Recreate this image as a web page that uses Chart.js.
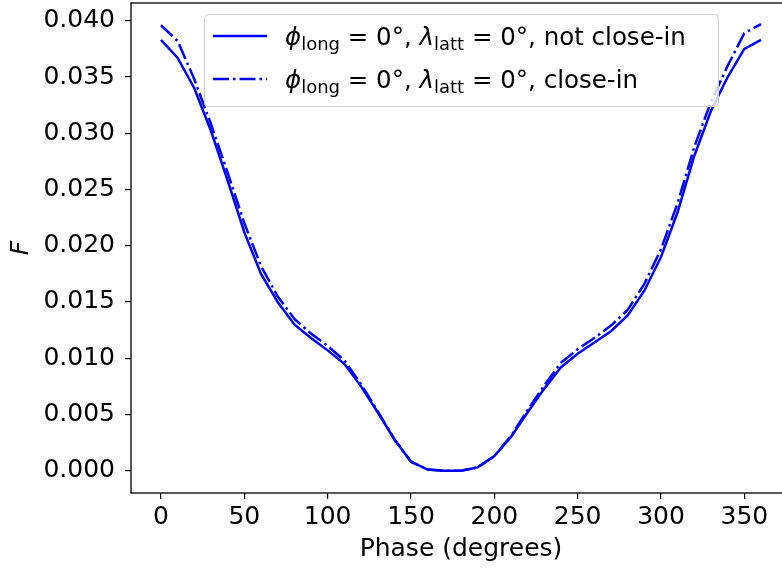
<!DOCTYPE html>
<html>
<head>
<meta charset="utf-8">
<script src="https://cdn.jsdelivr.net/npm/chart.js@4.4.0/dist/chart.umd.min.js"></script>
<style>
  html, body { margin: 0; padding: 0; background: #fff; overflow: hidden; }
  #wrap { width: 800px; height: 571px; }
</style>
</head>
<body>
<div id="wrap"><canvas id="chart" width="800" height="571"></canvas></div>
<script>
const phase = [0, 10, 20, 30, 40, 50, 60, 70, 80, 90, 100, 110, 120, 130, 140, 150, 160, 170, 180,
  190, 200, 210, 220, 230, 240, 250, 260, 270, 280, 290, 300, 310, 320, 330, 340, 350, 360];

const notCloseIn = [0.0383, 0.0367, 0.0340, 0.0302, 0.0258, 0.0212, 0.0175, 0.0150, 0.0130, 0.0118,
  0.0107, 0.0095, 0.0075, 0.0052, 0.0028, 0.0008, 0.0001, 0.0000, 0.0000,
  0.0003, 0.0013, 0.0030, 0.0052, 0.0073, 0.0092, 0.0104, 0.0114, 0.0124, 0.0138, 0.0160,
  0.0190, 0.0230, 0.0280, 0.0320, 0.0350, 0.0375, 0.0383];

const closeIn = [0.0396, 0.0382, 0.0348, 0.0308, 0.0265, 0.0220, 0.0182, 0.0155, 0.0135, 0.0122,
  0.0111, 0.0098, 0.0077, 0.0053, 0.0028, 0.0008, 0.0001, 0.0000, 0.0000,
  0.0003, 0.0013, 0.0031, 0.0054, 0.0076, 0.0096, 0.0108, 0.0118, 0.0129, 0.0143, 0.0166,
  0.0197, 0.0238, 0.0288, 0.0328, 0.0360, 0.0389, 0.0397];

const xTicks = [0, 50, 100, 150, 200, 250, 300, 350];
const yTicks = [0, 0.005, 0.010, 0.015, 0.020, 0.025, 0.030, 0.035, 0.040];

const FONT = "'DejaVu Sans', sans-serif";
const dashDot = [16, 4, 2.5, 4];

function toPoints(ys) {
  return phase.map((p, i) => ({ x: p, y: ys[i] }));
}

// frame around the plot area (matplotlib spines)
const frame = {
  id: "frame",
  afterDraw(chart) {
    const { ctx, chartArea: a } = chart;
    ctx.save();
    ctx.strokeStyle = "#000";
    ctx.lineWidth = 1.3;
    ctx.strokeRect(a.left, a.top, a.right - a.left, a.bottom - a.top);
    ctx.restore();
  },
};

// legend with subscripts
const mathLegend = {
  id: "mathLegend",
  afterDraw(chart) {
    const ctx = chart.ctx;
    const bx = 204, by = 14, bw = 514, bh = 92;
    ctx.save();
    ctx.fillStyle = "rgba(255,255,255,0.8)";
    ctx.strokeStyle = "#d0d0d0";
    ctx.lineWidth = 1;
    ctx.beginPath();
    ctx.roundRect(bx + 0.5, by + 0.5, bw, bh, 4);
    ctx.fill();
    ctx.stroke();

    const rows = [
      { y: 36, dash: [], tail: ", not close-in" },
      { y: 79, dash: dashDot, tail: ", close-in" },
    ];
    rows.forEach((r) => {
      ctx.strokeStyle = "#0000ff";
      ctx.lineWidth = 2.5;
      ctx.setLineDash(r.dash);
      ctx.beginPath();
      ctx.moveTo(213, r.y);
      ctx.lineTo(267, r.y);
      ctx.stroke();
      ctx.setLineDash([]);

      ctx.fillStyle = "#000";
      ctx.textBaseline = "alphabetic";
      ctx.textAlign = "left";
      let x = 285;
      const base = r.y + 9;
      const put = (t, font, dy) => {
        ctx.font = font;
        ctx.fillText(t, x, base + (dy || 0));
        x += ctx.measureText(t).width;
      };
      put("\u03d5", "italic 24.5px " + FONT);
      put("long", "18px " + FONT, 5);
      put(" = 0°, ", "24.5px " + FONT);
      put("\u03bb", "italic 24.5px " + FONT);
      put("latt", "18px " + FONT, 5);
      put(" = 0°" + r.tail, "24.5px " + FONT);
    });
    ctx.restore();
  },
};

new Chart(document.getElementById("chart"), {
  type: "line",
  data: {
    datasets: [
      {
        label: "not close-in",
        data: toPoints(notCloseIn),
        borderColor: "#0000ff",
        borderWidth: 2.5,
        pointRadius: 0,
        fill: false,
      },
      {
        label: "close-in",
        data: toPoints(closeIn),
        borderColor: "#0000ff",
        borderWidth: 2.5,
        borderDash: dashDot,
        pointRadius: 0,
        fill: false,
      },
    ],
  },
  options: {
    responsive: false,
    animation: false,
    layout: { padding: { top: 3, right: 9, left: 0, bottom: 0 } },
    plugins: { legend: { display: false }, tooltip: { enabled: false } },
    scales: {
      x: {
        type: "linear",
        min: -18,
        max: 378,
        afterBuildTicks: (s) => { s.ticks = xTicks.map((v) => ({ value: v })); },
        afterFit: (s) => { s.height = 78; s.paddingLeft = 0; s.paddingRight = 0; },
        grid: { drawOnChartArea: false, drawTicks: true, tickLength: 6, color: "#000", lineWidth: 1.2 },
        border: { display: false },
        ticks: { color: "#000", font: { family: FONT, size: 25 }, padding: 3, maxRotation: 0 },
        title: { display: true, text: "Phase (degrees)", color: "#000", font: { family: FONT, size: 25 }, padding: { top: 0, bottom: 7 } },
      },
      y: {
        type: "linear",
        min: -0.00198,
        max: 0.04158,
        afterBuildTicks: (s) => { s.ticks = yTicks.map((v) => ({ value: v })); },
        afterFit: (s) => { s.width = 131; s.paddingTop = 0; s.paddingBottom = 0; },
        grid: { drawOnChartArea: false, drawTicks: true, tickLength: 6, color: "#000", lineWidth: 1.2 },
        border: { display: false },
        ticks: {
          color: "#000",
          font: { family: FONT, size: 25 },
          padding: 10,
          callback: (v) => v.toFixed(3),
        },
        title: { display: true, text: "F", color: "#000", font: { family: FONT, size: 25, style: "italic" }, padding: { top: 6, bottom: 0 } },
      },
    },
  },
  plugins: [frame, mathLegend],
});
</script>
</body>
</html>
